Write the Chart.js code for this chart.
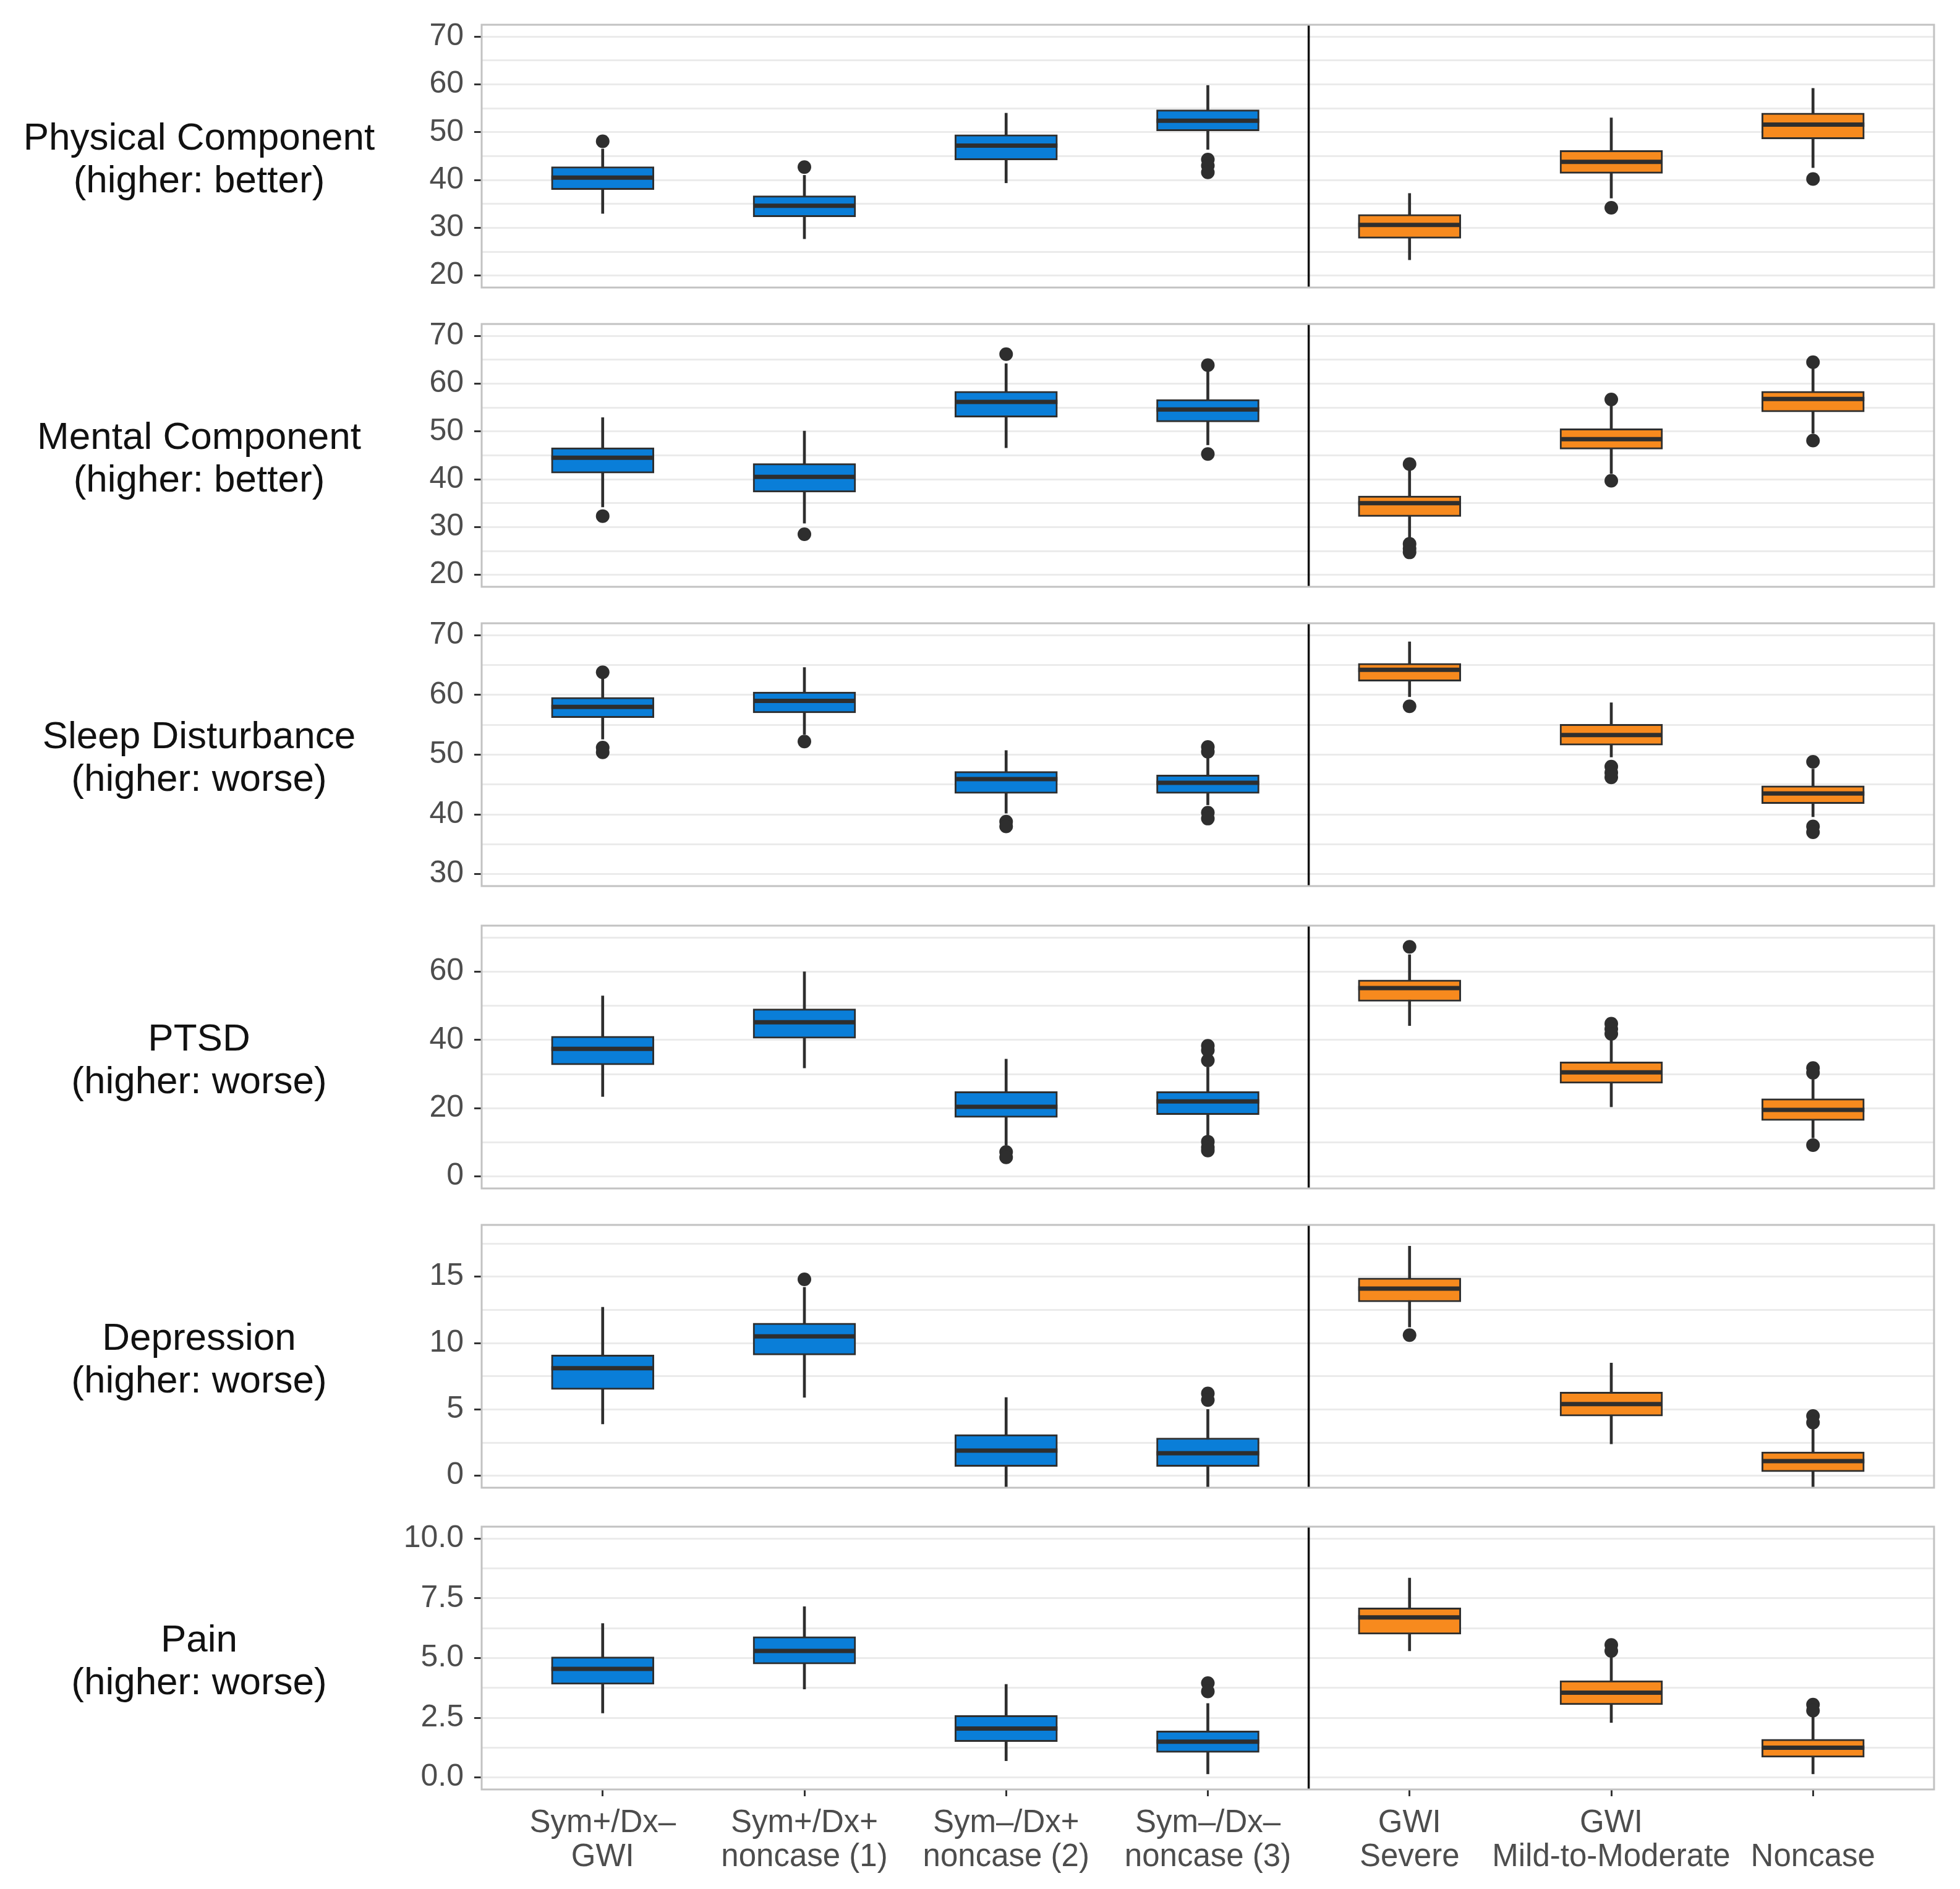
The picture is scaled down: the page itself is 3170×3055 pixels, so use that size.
<!DOCTYPE html>
<html>
<head>
<meta charset="utf-8">
<script src="https://cdn.jsdelivr.net/npm/chart.js@4.4.1/dist/chart.umd.min.js"></script>
<style>
  body { margin: 0; background: #fff; width: 3170px; height: 3055px; position: relative; overflow: hidden;
         font-family: 'Liberation Sans', Arial, sans-serif; }
  canvas { position: absolute; left: 0; }
  .rowlabel { position: absolute; left: 22px; width: 600px; text-align: center;
              font-size: 62px; line-height: 69px; color: #111; white-space: nowrap; }
</style>
</head>
<body>
<script>
// groups on the x axis (two-line labels)
const categories = [
  ["Sym+/Dx–", "GWI"],
  ["Sym+/Dx+", "noncase (1)"],
  ["Sym–/Dx+", "noncase (2)"],
  ["Sym–/Dx–", "noncase (3)"],
  ["GWI", "Severe"],
  ["GWI", "Mild-to-Moderate"],
  ["", "Noncase"],
];
const groupColors = ["#0a7ed8", "#0a7ed8", "#0a7ed8", "#0a7ed8", "#f78a1e", "#f78a1e", "#f78a1e"];

const rowTitles = [
  ["Physical Component", "(higher: better)"],
  ["Mental Component", "(higher: better)"],
  ["Sleep Disturbance", "(higher: worse)"],
  ["PTSD", "(higher: worse)"],
  ["Depression", "(higher: worse)"],
  ["Pain", "(higher: worse)"],
];

// each box: [lower whisker, Q1, median, Q3, upper whisker]
const physicalBoxes = [
  [33.0, 38.0, 40.5, 42.8, 46.5],
  [27.7, 32.3, 34.6, 36.7, 41.0],
  [39.4, 44.2, 47.2, 49.5, 54.0],
  [46.4, 50.3, 52.4, 54.7, 59.8],
  [23.3, 27.8, 30.6, 32.8, 37.2],
  [36.2, 41.4, 43.8, 46.2, 53.0],
  [42.6, 48.6, 51.6, 54.0, 59.2],
];
const physicalOutliers = [[48.1], [42.7], [], [44.3, 43.0, 41.6], [], [34.2], [40.2]];

const mentalBoxes = [
  [34.2, 41.3, 44.5, 46.6, 52.9],
  [30.8, 37.3, 40.5, 43.3, 50.1],
  [46.6, 53.0, 56.2, 58.4, 64.2],
  [47.2, 52.0, 54.6, 56.7, 62.6],
  [27.6, 32.2, 35.0, 36.5, 42.0],
  [41.2, 46.3, 48.4, 50.6, 55.4],
  [49.6, 54.1, 56.8, 58.4, 63.2],
];
const mentalOutliers = [[32.3], [28.5], [66.2], [63.9, 45.3], [43.2, 26.5, 25.5, 24.7], [56.7, 39.7], [64.5, 48.1]];

const sleepBoxes = [
  [52.6, 56.2, 58.0, 59.6, 62.8],
  [53.4, 57.0, 59.0, 60.5, 64.6],
  [40.2, 43.5, 45.9, 47.2, 50.7],
  [41.6, 43.5, 45.3, 46.6, 49.4],
  [59.7, 62.3, 64.2, 65.3, 68.9],
  [49.6, 51.6, 53.3, 55.1, 58.7],
  [39.6, 41.8, 43.5, 44.8, 47.6],
];
const sleepOutliers = [[63.8, 51.2, 50.4], [52.2], [38.8, 38.0], [51.3, 50.5, 40.3, 39.3], [58.1], [48.0, 47.0, 46.2], [48.8, 38.0, 37.0]];

const ptsdBoxes = [
  [23.4, 32.7, 37.4, 41.1, 52.9],
  [31.8, 40.5, 45.2, 49.1, 60.0],
  [9.2, 17.3, 20.4, 24.9, 34.4],
  [11.9, 18.1, 22.0, 24.9, 32.0],
  [44.2, 51.3, 55.2, 57.6, 65.0],
  [20.4, 27.3, 30.5, 33.6, 40.0],
  [11.3, 16.4, 19.5, 22.8, 28.4],
];
const ptsdOutliers = [[], [], [7.2, 5.6], [38.3, 37.0, 34.0, 10.2, 8.5, 7.6], [67.3], [44.8, 43.2, 41.8], [31.8, 30.4, 9.2]];

const depressionBoxes = [
  [3.9, 6.5, 8.1, 9.1, 12.7],
  [5.9, 9.1, 10.5, 11.5, 14.2],
  [-0.9, 0.7, 1.9, 3.1, 5.9],
  [-0.9, 0.7, 1.7, 2.85, 5.0],
  [11.2, 13.1, 14.1, 14.9, 17.3],
  [2.4, 4.5, 5.4, 6.3, 8.5],
  [-0.9, 0.3, 1.1, 1.8, 3.5],
];
const depressionOutliers = [[], [14.8], [], [6.2, 5.7], [10.6], [], [4.5, 4.0]];

const painBoxes = [
  [2.7, 3.9, 4.55, 5.05, 6.45],
  [3.7, 4.75, 5.3, 5.9, 7.15],
  [0.7, 1.5, 2.05, 2.6, 3.9],
  [0.15, 1.05, 1.5, 1.95, 3.1],
  [5.3, 6.0, 6.7, 7.1, 8.35],
  [2.3, 3.05, 3.55, 4.05, 5.1],
  [0.15, 0.85, 1.25, 1.6, 2.6],
];
const painOutliers = [[], [], [], [3.95, 3.6], [], [5.55, 5.3], [3.05, 2.8]];

// y ranges, grid lines and labelled ticks
const physicalRange = [17.5, 72.5];
const physicalGrid = [20, 25, 30, 35, 40, 45, 50, 55, 60, 65, 70];
const physicalTicks = [20, 30, 40, 50, 60, 70];
const physicalTickLabels = ["20", "30", "40", "50", "60", "70"];

const mentalRange = [17.5, 72.5];
const mentalGrid = [20, 25, 30, 35, 40, 45, 50, 55, 60, 65, 70];
const mentalTicks = [20, 30, 40, 50, 60, 70];
const mentalTickLabels = ["20", "30", "40", "50", "60", "70"];

const sleepRange = [28, 72];
const sleepGrid = [30, 35, 40, 45, 50, 55, 60, 65, 70];
const sleepTicks = [30, 40, 50, 60, 70];
const sleepTickLabels = ["30", "40", "50", "60", "70"];

const ptsdRange = [-3.5, 73.5];
const ptsdGrid = [0, 10, 20, 30, 40, 50, 60, 70];
const ptsdTicks = [0, 20, 40, 60];
const ptsdTickLabels = ["0", "20", "40", "60"];

const depressionRange = [-0.9, 18.9];
const depressionGrid = [0, 2.5, 5, 7.5, 10, 12.5, 15, 17.5];
const depressionTicks = [0, 5, 10, 15];
const depressionTickLabels = ["0", "5", "10", "15"];

const painRange = [-0.5, 10.5];
const painGrid = [0, 1.25, 2.5, 3.75, 5, 6.25, 7.5, 8.75, 10];
const painTicks = [0, 2.5, 5, 7.5, 10];
const painTickLabels = ["0.0", "2.5", "5.0", "7.5", "10.0"];

const panels = [
  [physicalBoxes, physicalOutliers, physicalRange, physicalGrid, physicalTicks, physicalTickLabels],
  [mentalBoxes, mentalOutliers, mentalRange, mentalGrid, mentalTicks, mentalTickLabels],
  [sleepBoxes, sleepOutliers, sleepRange, sleepGrid, sleepTicks, sleepTickLabels],
  [ptsdBoxes, ptsdOutliers, ptsdRange, ptsdGrid, ptsdTicks, ptsdTickLabels],
  [depressionBoxes, depressionOutliers, depressionRange, depressionGrid, depressionTicks, depressionTickLabels],
  [painBoxes, painOutliers, painRange, painGrid, painTicks, painTickLabels],
];

// layout
const panelTops = [40, 524, 1008, 1497, 1981, 2469];
const panelHeight = 425;
const panelLeft = 779;
const panelRight = 3128;
const pad = 70;
const yAxisWidth = 160;
const xAxisHeight = 150;
const dark = "#2e2e2e";

Chart.defaults.font.family = "'Liberation Sans', Arial, sans-serif";

// panel border and the vertical separator between the two groupings
const panelFrame = {
  id: "panelFrame",
  afterDatasetsDraw(chart) {
    const { ctx, chartArea: a, scales } = chart;
    ctx.save();
    const sx = scales.x.getPixelForValue(3.5);
    ctx.strokeStyle = "#111";
    ctx.lineWidth = 3.5;
    ctx.beginPath();
    ctx.moveTo(sx, a.top);
    ctx.lineTo(sx, a.bottom);
    ctx.stroke();
    ctx.strokeStyle = "#c2c2c2";
    ctx.lineWidth = 3;
    ctx.strokeRect(a.left, a.top, a.right - a.left, a.bottom - a.top);
    ctx.restore();
  },
};

function drawPanel(i) {
  const [boxes, outliers, range, grid, tickValues, tickLabels] = panels[i];
  const isLast = i === panels.length - 1;

  const canvas = document.createElement("canvas");
  const h = pad + panelHeight + (isLast ? xAxisHeight : pad);
  canvas.width = 3170;
  canvas.height = h;
  canvas.style.width = "3170px";
  canvas.style.height = h + "px";
  canvas.style.top = panelTops[i] - pad + "px";
  document.body.appendChild(canvas);

  const label = document.createElement("div");
  label.className = "rowlabel";
  label.style.top = panelTops[i] + panelHeight / 2 + 2 - 69 + "px";
  label.innerHTML = rowTitles[i][0] + "<br>" + rowTitles[i][1];
  document.body.appendChild(label);

  let outlierPoints = [];
  for (let k = 0; k < outliers.length; k++) {
    for (let j = 0; j < outliers[k].length; j++) {
      outlierPoints.push({ x: k, y: outliers[k][j] });
    }
  }

  const data = {
    datasets: [
      {
        type: "line",
        data: boxes.map((b, k) => ({ x: k, y: b[2] })),
        showLine: false,
        pointStyle: "line",
        pointRadius: 83,
        pointHoverRadius: 83,
        pointBorderWidth: 7,
        pointBorderColor: dark,
        order: 1,
      },
      {
        type: "line",
        data: outlierPoints,
        showLine: false,
        pointRadius: 11,
        pointHoverRadius: 11,
        pointBorderWidth: 0,
        pointBackgroundColor: dark,
        order: 1,
      },
      {
        type: "bar",
        data: boxes.map((b, k) => ({ x: k, y: [b[1], b[3]] })),
        backgroundColor: groupColors,
        borderColor: dark,
        borderWidth: 3,
        borderSkipped: false,
        barThickness: 166,
        grouped: false,
        order: 2,
      },
      {
        type: "bar",
        data: boxes.map((b, k) => ({ x: k, y: [b[0], b[4]] })),
        backgroundColor: dark,
        borderWidth: 0,
        barThickness: 4,
        grouped: false,
        order: 3,
      },
    ],
  };

  const config = {
    type: "bar",
    data: data,
    plugins: [panelFrame],
    options: {
      responsive: false,
      animation: false,
      events: [],
      layout: {
        autoPadding: false,
        padding: {
          top: pad,
          bottom: isLast ? 0 : pad,
          left: panelLeft - yAxisWidth,
          right: 3170 - panelRight,
        },
      },
      plugins: { legend: { display: false }, tooltip: { enabled: false } },
      scales: {
        x: {
          type: "linear",
          min: -0.6,
          max: 6.6,
          offset: false,
          display: isLast,
          afterBuildTicks: (axis) => {
            axis.ticks = categories.map((c, k) => ({ value: k }));
          },
          afterFit: (axis) => {
            axis.height = isLast ? xAxisHeight : 0;
          },
          grid: {
            offset: false,
            drawOnChartArea: false,
            drawTicks: true,
            tickLength: 11,
            tickWidth: 3,
            tickColor: "#333",
          },
          border: { display: false },
          ticks: {
            autoSkip: false,
            maxRotation: 0,
            padding: 16,
            color: "#4d4d4d",
            font: { size: 51, lineHeight: 1.08 },
            callback: (v) => categories[v],
          },
        },
        y: {
          min: range[0],
          max: range[1],
          afterBuildTicks: (axis) => {
            axis.ticks = grid.map((v) => ({ value: v }));
          },
          afterFit: (axis) => {
            axis.width = yAxisWidth;
          },
          grid: {
            color: "#ebebeb",
            lineWidth: 3,
            drawTicks: true,
            tickLength: 12,
            tickWidth: 3,
            tickColor: (c) => (c.tick && tickValues.includes(c.tick.value) ? "#333" : "rgba(0,0,0,0)"),
          },
          border: { display: false },
          ticks: {
            autoSkip: false,
            padding: 17,
            color: "#4d4d4d",
            font: { size: 50 },
            callback: (v) => {
              const j = tickValues.indexOf(v);
              return j >= 0 ? tickLabels[j] : "";
            },
          },
        },
      },
    },
  };

  new Chart(canvas, config);
}

for (let i = 0; i < panels.length; i++) {
  drawPanel(i);
}
</script>
</body>
</html>
